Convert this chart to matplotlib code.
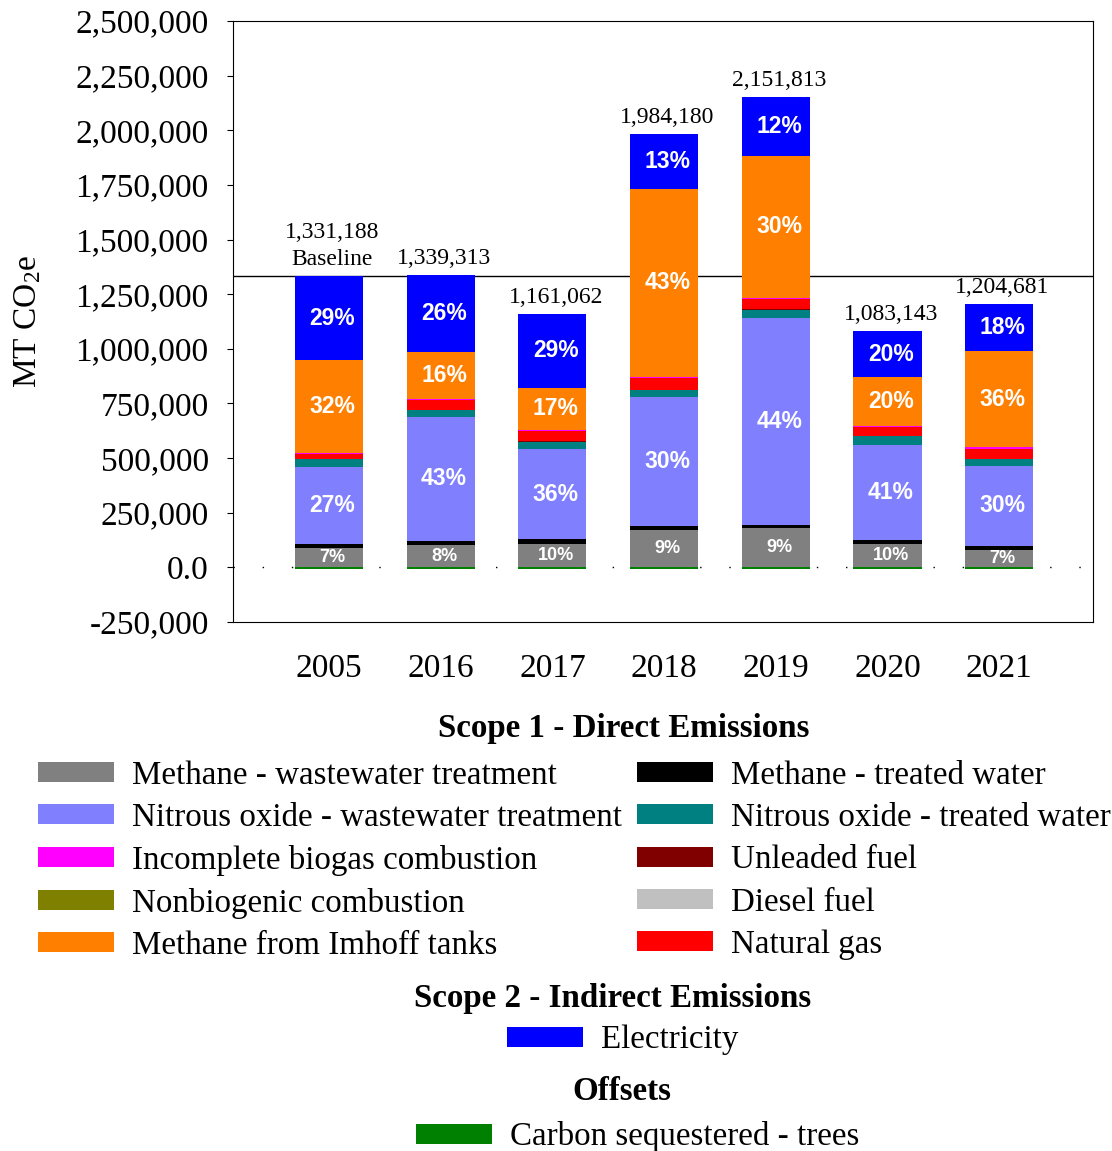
import matplotlib.pyplot as plt
import numpy as np
from matplotlib.patches import Patch

# years and reported totals (MT CO2e)
years = ["2005", "2016", "2017", "2018", "2019", "2020", "2021"]
totals = [1331188, 1339313, 1161062, 1984180, 2151813, 1083143, 1204681]
baseline = 1331188

# scope 1 - direct emissions
methane_ww = [87000, 102000, 108000, 170000, 180000, 108000, 81000]
methane_tw = [18000, 20000, 20000, 18000, 15000, 15000, 17000]
n2o_ww = [352000, 565000, 415000, 591000, 946000, 438000, 366000]
n2o_tw = [37000, 31000, 32000, 31000, 38000, 38000, 31000]
unleaded = [1000, 1000, 1000, 1000, 1000, 1000, 1000]
nonbiogenic = [1000, 1000, 1000, 1000, 1000, 1000, 1000]
diesel = [1000, 1000, 1000, 1000, 1000, 1000, 1000]
natural_gas = [20000, 44000, 44000, 52000, 44000, 38000, 44000]
biogas = [8000, 7000, 7000, 7000, 8000, 7000, 8000]
imhoff = [424000, 212000, 194000, 859000, 650000, 222000, 440000]
# scope 2
electricity = [382000, 355000, 338000, 253000, 268000, 214000, 215000]
# offsets
trees = [-7000, -7000, -7000, -7000, -7000, -7000, -7000]

# percent labels as printed on the bars
pct_methane_ww = ["7%", "8%", "10%", "9%", "9%", "10%", "7%"]
pct_n2o_ww = ["27%", "43%", "36%", "30%", "44%", "41%", "30%"]
pct_imhoff = ["32%", "16%", "17%", "43%", "30%", "20%", "36%"]
pct_elec = ["29%", "26%", "29%", "13%", "12%", "20%", "18%"]

SERIF = "Liberation Serif"
SANS = "Liberation Sans"
plt.rcParams["mathtext.fontset"] = "custom"
plt.rcParams["mathtext.rm"] = SERIF
plt.rcParams["mathtext.it"] = SERIF + ":italic"

stack = [
    ("methane_ww", methane_ww, "#808080"),
    ("methane_tw", methane_tw, "#000000"),
    ("n2o_ww", n2o_ww, "#8080FF"),
    ("n2o_tw", n2o_tw, "#008080"),
    ("unleaded", unleaded, "#800000"),
    ("nonbiogenic", nonbiogenic, "#808000"),
    ("diesel", diesel, "#C0C0C0"),
    ("natural_gas", natural_gas, "#FF0000"),
    ("biogas", biogas, "#FF00FF"),
    ("imhoff", imhoff, "#FF8000"),
    ("electricity", electricity, "#0000FF"),
]
colors = {name: c for name, _, c in stack}
colors["trees"] = "#008000"
pct_labels = {
    "methane_ww": (pct_methane_ww, 13),
    "n2o_ww": (pct_n2o_ww, 16.5),
    "imhoff": (pct_imhoff, 16.5),
    "electricity": (pct_elec, 16.5),
}

fig = plt.figure(figsize=(11.12, 11.51), dpi=100)
ax = fig.add_axes([233 / 1112, 1 - 622 / 1151, 860 / 1112, 601 / 1151])

x = np.arange(len(years))
width = 0.61

ax.axhline(0, color="black", lw=1, linestyle=(0, (1, 20)), zorder=1)
ax.bar(x, trees, width, color=colors["trees"], zorder=2)

bottom = np.zeros(len(years))
for name, vals, color in stack:
    vals = np.asarray(vals, dtype=float)
    ax.bar(x, vals, width, bottom=bottom, color=color, zorder=2)
    if name in pct_labels:
        labels, size = pct_labels[name]
        for xi, b, v, lab in zip(x, bottom, vals, labels):
            ax.text(xi + 0.03, b + v / 2, lab, ha="center", va="center",
                    color="white", fontsize=size, fontweight="bold",
                    family=SANS, zorder=3)
    bottom += vals

ax.axhline(baseline, color="black", lw=1, zorder=1)

for xi, top, tot in zip(x, bottom, totals):
    label = f"{tot:,}"
    if xi == 0:
        label += "\nBaseline"
    ax.annotate(label, (xi + 0.03, top), xytext=(0, 5 if xi == 0 else 4),
                textcoords="offset points", ha="center", va="bottom",
                fontsize=17, family=SERIF, linespacing=1.35)

yticks = np.arange(-250000, 2500001, 250000)
ax.set_xlim(-0.86, 6.84)
ax.set_ylim(-250000, 2500000)
ax.set_yticks(yticks)
ax.set_yticklabels([("0.0" if v == 0 else f"{v:,}") for v in yticks])
ax.set_xticks(x)
ax.set_xticklabels(years)
ax.tick_params(axis="y", direction="out", length=4, labelsize=24, pad=13.5)
ax.tick_params(axis="x", length=0, labelsize=24, pad=22.5)
for lab in ax.get_xticklabels() + ax.get_yticklabels():
    lab.set_family(SERIF)
ax.set_ylabel("MT CO$_2$e", fontsize=24, family=SERIF, labelpad=23)

# legends
def handle(key):
    return Patch(facecolor=colors[key], edgecolor="none")

scope1_labels = [
    ("methane_ww", "Methane - wastewater treatment"),
    ("n2o_ww", "Nitrous oxide - wastewater treatment"),
    ("biogas", "Incomplete biogas combustion"),
    ("nonbiogenic", "Nonbiogenic combustion"),
    ("imhoff", "Methane from Imhoff tanks"),
    ("methane_tw", "Methane - treated water"),
    ("n2o_tw", "Nitrous oxide - treated water"),
    ("unleaded", "Unleaded fuel"),
    ("diesel", "Diesel fuel"),
    ("natural_gas", "Natural gas"),
]
leg_kw = dict(frameon=False, borderpad=0, borderaxespad=0, handlelength=2.3,
              handleheight=0.55, handletextpad=0.55,
              prop={"family": SERIF, "size": 23.8})

fig.text(624 / 1112, 1 - 728 / 1151, "Scope 1 - Direct Emissions", ha="center",
         va="center", fontsize=23.8, fontweight="bold", family=SERIF)
leg1 = fig.legend([handle(k) for k, _ in scope1_labels], [t for _, t in scope1_labels],
                  ncol=2, loc="upper left", bbox_to_anchor=(38 / 1112, 1 - 760 / 1151),
                  labelspacing=0.36, columnspacing=0.45, **leg_kw)

fig.text(613 / 1112, 1 - 998 / 1151, "Scope 2 - Indirect Emissions", ha="center",
         va="center", fontsize=23.8, fontweight="bold", family=SERIF)
leg2 = fig.legend([handle("electricity")], ["Electricity"], loc="center left",
                  bbox_to_anchor=(507 / 1112, 1 - 1040 / 1151), **leg_kw)

fig.text(622 / 1112, 1 - 1091 / 1151, "Offsets", ha="center", va="center",
         fontsize=23.8, fontweight="bold", family=SERIF)
leg3 = fig.legend([handle("trees")], ["Carbon sequestered - trees"], loc="center left",
                  bbox_to_anchor=(416 / 1112, 1 - 1137 / 1151), **leg_kw)

fig.savefig("out.png", dpi=100)
